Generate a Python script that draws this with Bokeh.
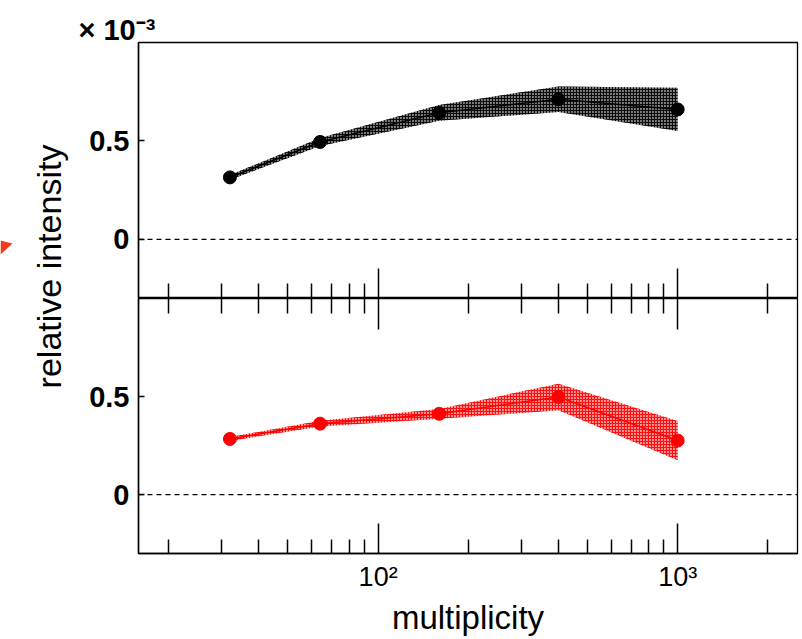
import math
from bokeh.plotting import figure
from bokeh.layouts import row, column
from bokeh.models import Range1d, FixedTicker, LogAxis, Span, Label, ColumnDataSource
from bokeh.embed import file_html
from bokeh.resources import INLINE

# ---- data ----
multiplicity = [32, 64, 160, 400, 1000]
black_vals = [0.315, 0.495, 0.643, 0.712, 0.660]
black_err = [0.012, 0.020, 0.040, 0.065, 0.110]
red_vals = [0.284, 0.362, 0.412, 0.498, 0.276]
red_err = [0.010, 0.015, 0.025, 0.068, 0.100]

x_major = [100, 1000]
x_minor = [20, 30, 40, 50, 60, 70, 80, 90, 200, 300, 400, 500, 600, 700, 800, 900, 2000]
x_labels = {100: "10²", 1000: "10³"}
x_blank = {100: "", 1000: ""}
y_ticks = [0, 0.5]
y_labels = {0: "0", 0.5: "0.5"}

FONT = "Liberation Sans"
X_RANGE = (10 ** 1.2, 10 ** 3.4)
Y_RANGE = (-0.3, 1.0)


def style_common(p):
    p.grid.visible = False
    p.outline_line_color = "black"
    p.outline_line_width = 1.3
    p.background_fill_color = "white"
    p.border_fill_color = "white"
    ya = p.yaxis[0]
    ya.ticker = FixedTicker(ticks=y_ticks)
    ya.major_label_overrides = y_labels
    ya.major_tick_in = 6
    ya.major_tick_out = 0
    ya.minor_tick_in = 0
    ya.minor_tick_out = 0
    ya.major_tick_line_width = 1.5
    ya.axis_line_width = 1.5
    ya.major_label_standoff = 9
    ya.major_label_text_font = FONT
    ya.major_label_text_font_style = "bold"
    ya.major_label_text_font_size = "29px"
    ya.major_label_text_color = "black"


def add_series(p, vals, errs, color, band_alpha):
    src = ColumnDataSource(dict(
        x=multiplicity,
        y=vals,
        lo=[v - e for v, e in zip(vals, errs)],
        hi=[v + e for v, e in zip(vals, errs)],
    ))
    p.varea(x="x", y1="lo", y2="hi", source=src,
            fill_color=color, fill_alpha=band_alpha,
            hatch_pattern="cross", hatch_color=color, hatch_alpha=0.9,
            hatch_scale=3, hatch_weight=1.2)
    p.line(x="x", y="y", source=src, line_color=color, line_width=1.5)
    p.scatter(x="x", y="y", source=src, size=13, fill_color=color, line_color=color)
    p.add_layout(Span(location=0, dimension="width", line_color="black",
                      line_width=1.2, line_dash="5 4"))


# ---- top panel ----
top = figure(x_axis_type="log", x_range=Range1d(*X_RANGE), y_range=Range1d(*Y_RANGE),
             frame_width=659, frame_height=256,
             min_border_left=68, min_border_right=5, min_border_top=42, min_border_bottom=0,
             toolbar_location=None, output_backend="svg",
             title="× 10⁻³")
top.title.align = "left"
top.title.offset = -60
top.title.standoff = -6
top.title.text_font = FONT
top.title.text_font_style = "bold"
top.title.text_font_size = "29px"
top.title.text_color = "black"
style_common(top)
xa = top.xaxis[0]
xa.ticker = FixedTicker(ticks=x_major, minor_ticks=x_minor)
xa.major_label_overrides = x_blank
xa.major_tick_in = 30
xa.major_tick_out = 0
xa.minor_tick_in = 15
xa.minor_tick_out = 0
xa.major_tick_line_width = 1.5
xa.minor_tick_line_width = 1.5
xa.axis_line_width = 1.5
xa.major_label_text_font_size = "1px"
xa.major_label_standoff = 0
add_series(top, black_vals, black_err, "black", 0.5)

# ---- bottom panel ----
bot = figure(x_axis_type="log", x_range=top.x_range, y_range=Range1d(*Y_RANGE),
             frame_width=659, frame_height=255,
             min_border_left=68, min_border_right=5, min_border_top=0, min_border_bottom=86,
             toolbar_location=None, output_backend="svg")
style_common(bot)
xb = bot.xaxis[0]
xb.ticker = FixedTicker(ticks=x_major, minor_ticks=x_minor)
xb.major_label_overrides = x_labels
xb.major_tick_in = 30
xb.major_tick_out = 0
xb.minor_tick_in = 14
xb.minor_tick_out = 0
xb.major_tick_line_width = 1.5
xb.minor_tick_line_width = 1.5
xb.axis_line_width = 1.5
xb.major_label_standoff = 8
xb.major_label_text_font = FONT
xb.major_label_text_font_size = "27px"
xb.major_label_text_color = "black"
xb.axis_label = "multiplicity"
xb.axis_label_text_font = FONT
xb.axis_label_text_font_size = "33px"
xb.axis_label_text_font_style = "normal"
xb.axis_label_text_color = "black"
xb.axis_label_standoff = 4

above = LogAxis(ticker=FixedTicker(ticks=x_major, minor_ticks=x_minor),
                major_label_overrides=x_blank,
                major_tick_in=31, major_tick_out=0, minor_tick_in=15, minor_tick_out=0,
                major_tick_line_width=1.5, minor_tick_line_width=1.5,
                axis_line_color=None, major_label_text_font_size="1px",
                major_label_standoff=0)
bot.add_layout(above, "above")
add_series(bot, red_vals, red_err, "red", 0.4)

# ---- shared y label (plus the clipped red marker at the left edge) ----
lab = figure(width=70, height=639, x_range=Range1d(0, 70), y_range=Range1d(639, 0),
             min_border=0, x_axis_location=None, y_axis_location=None,
             toolbar_location=None, output_backend="svg")
lab.grid.visible = False
lab.outline_line_color = None
lab.patch(x=[0, 12, 0], y=[240, 243, 254], fill_color="#f43a1c", line_color=None)
lab.add_layout(Label(x=48, y=266, text="relative intensity", angle=math.pi / 2,
                     text_align="center", text_baseline="middle",
                     text_font=FONT, text_font_size="34px", text_color="black"))

layout = row(lab, column(top, bot, spacing=0), spacing=0)
open("out.html", "w").write(file_html(layout, INLINE))
